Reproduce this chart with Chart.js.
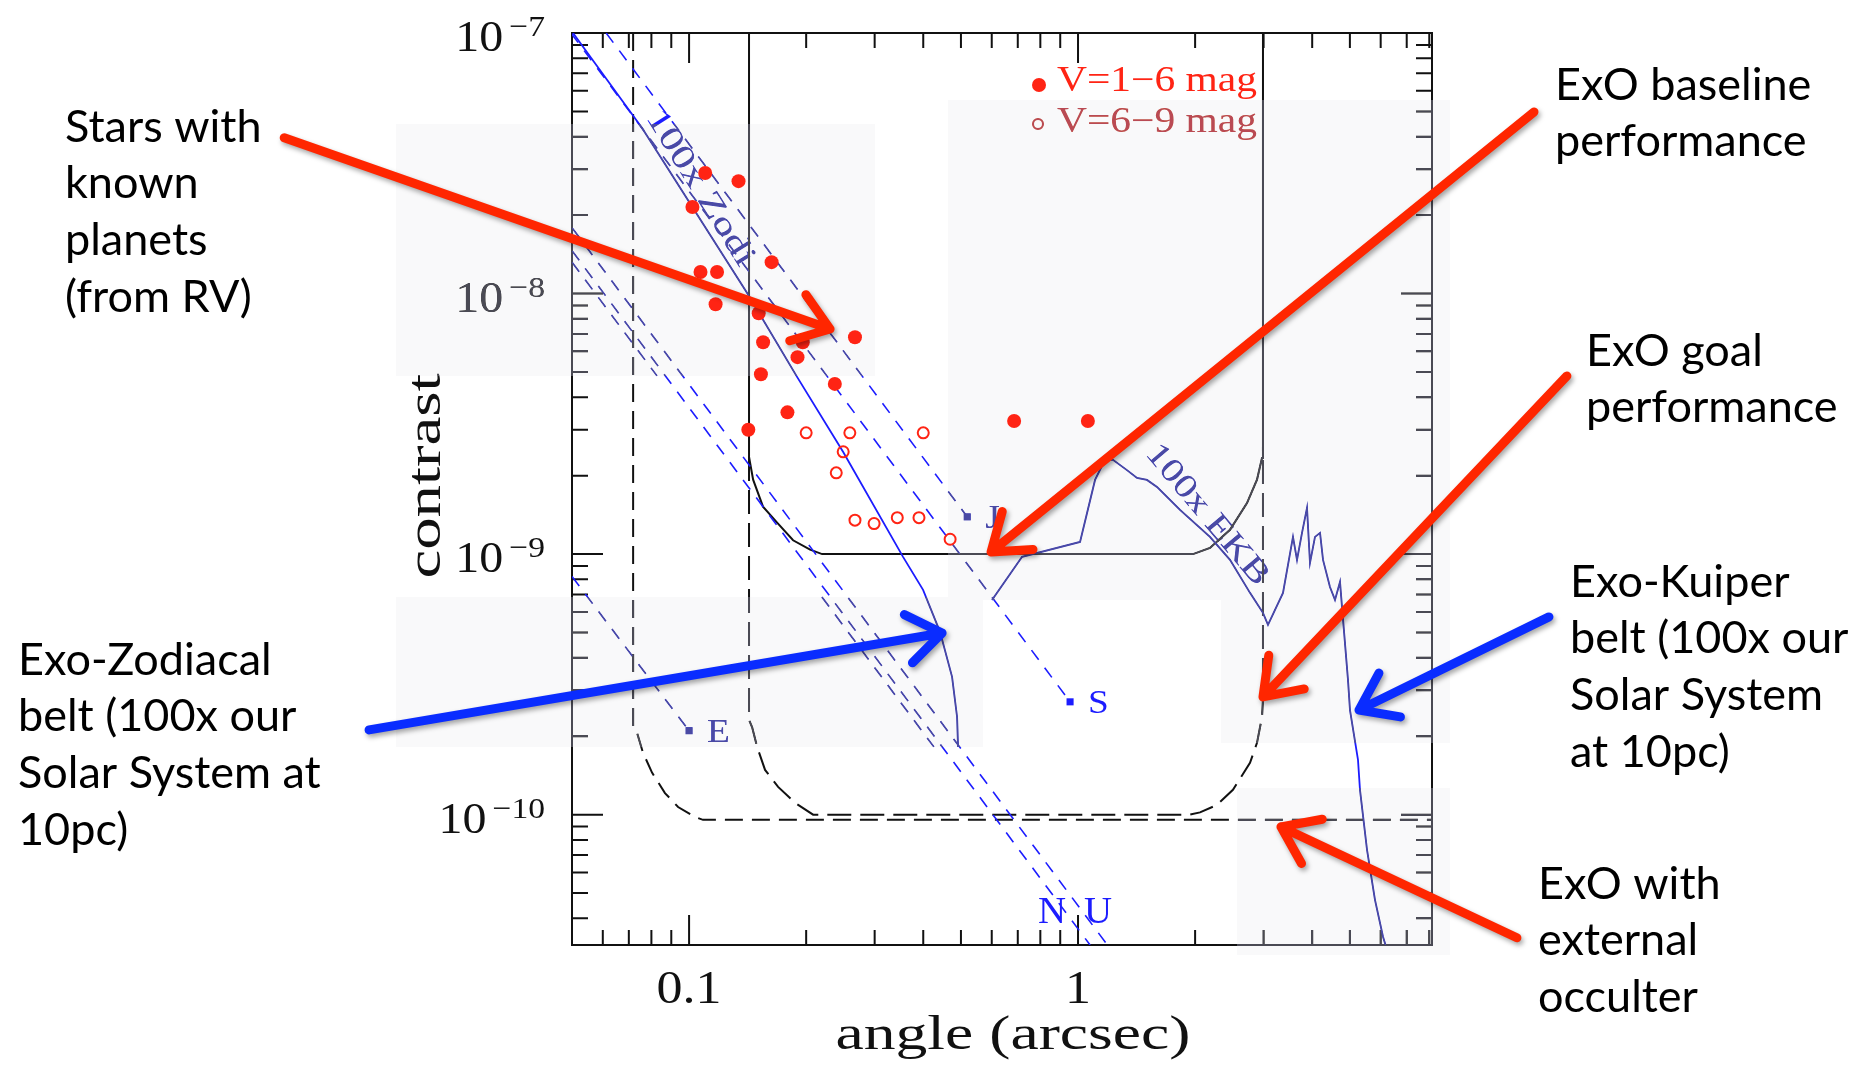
<!DOCTYPE html>
<html lang="en">
<head>
<meta charset="UTF-8">
<title>ExO contrast vs angle</title>
<script src="https://cdn.jsdelivr.net/npm/chart.js@4.4.1/dist/chart.umd.min.js"></script>
<style>
  html, body { margin: 0; padding: 0; background: #fff; }
  canvas { display: block; }
</style>
</head>
<body>
<canvas id="stage" width="1854" height="1067"></canvas>
<script>
// axis ranges: angle (arcsec) and contrast
const xRange = [0.05, 8.13];
const yRange = [3.16e-11, 1e-7];

// ticks
const xMajor = [0.1, 1];
const xTickLabels = ['0.1', '1'];
const xMinor = [0.06, 0.07, 0.08, 0.09, 0.2, 0.3, 0.4, 0.5, 0.6, 0.7, 0.8, 0.9, 2, 3, 4, 5, 6, 7, 8];
const yMajor = [1e-7, 1e-8, 1e-9, 1e-10];
const yTickExp = ['\u22127', '\u22128', '\u22129', '\u221210'];
const yMinor = [9e-8, 8e-8, 7e-8, 6e-8, 5e-8, 4e-8, 3e-8, 2e-8,
                9e-9, 8e-9, 7e-9, 6e-9, 5e-9, 4e-9, 3e-9, 2e-9,
                9e-10, 8e-10, 7e-10, 6e-10, 5e-10, 4e-10, 3e-10, 2e-10,
                9e-11, 8e-11, 7e-11, 6e-11, 5e-11, 4e-11];

// stars with known RV planets, V = 1-6 mag
const brightX = [0.110, 0.134, 0.102, 0.163, 0.107, 0.118, 0.117, 0.151, 0.267, 0.196, 0.155, 0.190, 0.153, 0.237, 0.179, 0.142, 0.685, 1.06];
const brightY = [2.90e-8, 2.70e-8, 2.15e-8, 1.32e-8, 1.21e-8, 1.21e-8, 9.1e-9, 8.4e-9, 6.8e-9, 6.5e-9, 6.5e-9, 5.7e-9, 4.9e-9, 4.5e-9, 3.5e-9, 3.0e-9, 3.24e-9, 3.24e-9];
// V = 6-9 mag
const faintX = [0.200, 0.259, 0.400, 0.249, 0.239, 0.267, 0.299, 0.343, 0.390, 0.469];
const faintY = [2.92e-9, 2.92e-9, 2.92e-9, 2.47e-9, 2.05e-9, 1.35e-9, 1.31e-9, 1.38e-9, 1.38e-9, 1.14e-9];

// solar system planets at 10pc
const planetNames = ['E', 'J', 'S'];
const planetX = [0.100, 0.519, 0.954];
const planetY = [2.10e-10, 1.39e-9, 2.71e-10];

// planet tracks
const earthX = [0.05, 0.100],     earthY = [8.2e-10, 2.10e-10];
const jupiterX = [0.0612, 0.519], jupiterY = [1.0e-7, 1.39e-9];
const saturnX = [0.0497, 0.954],  saturnY = [1.0e-7, 2.71e-10];
const uranusX = [0.05, 1.19],     uranusY = [1.79e-8, 3.16e-11];
const neptuneX = [0.05, 1.074],   neptuneY = [1.46e-8, 3.16e-11];
const extraX = [0.05, 0.0827, null, 0.2195, 0.426];
const extraY = [1.32e-8, 4.83e-9, null, 6.85e-10, 1.82e-10];
const trackNames = ['N', 'U'];
const trackLabelX = [0.857, 1.126];
const trackLabelY = [4.2e-11, 4.2e-11];

// 100x zodi
const zodiX = [0.0503, 0.0757, 0.141, 0.1895, 0.2488, 0.3549, 0.3996, 0.4417, 0.4744, 0.4887, 0.4915];
const zodiY = [1.0e-7, 4.32e-8, 1.005e-8, 4.79e-9, 2.47e-9, 9.76e-10, 7.29e-10, 5.03e-10, 3.38e-10, 2.37e-10, 1.82e-10];

// 100x EKB
const ekbX = [0.601, 0.718, 1.012, 1.106, 1.173, 1.230, 1.336, 1.418, 1.504, 1.596, 1.829, 2.184, 2.459, 2.768, 2.989, 3.079,
              3.365, 3.570, 3.656, 3.766, 3.879, 3.948, 4.067, 4.190, 4.265, 4.444, 4.578, 4.716, 4.772, 4.944, 5.003,
              5.246, 5.308, 5.534, 5.801, 6.083, 6.228];
const ekbY = [6.67e-10, 9.76e-10, 1.113e-9, 1.926e-9, 2.30e-9, 2.30e-9, 2.10e-9, 1.96e-9, 1.926e-9, 1.81e-9, 1.478e-9, 1.164e-9, 9.50e-10, 7.10e-10, 5.95e-10, 5.35e-10,
              7.10e-10, 1.164e-9, 9.50e-10, 1.206e-9, 1.504e-9, 9.25e-10, 1.164e-9, 1.206e-9, 9.50e-10, 7.48e-10, 6.67e-10, 7.82e-10, 6.27e-10, 3.29e-10, 2.52e-10,
              1.623e-10, 1.245e-10, 7.33e-11, 4.71e-11, 3.40e-11, 3.03e-11];

// ExO baseline performance
const baseX = [0.1426, 0.1426, 0.1461, 0.1549, 0.1684, 0.1851, 0.2047, 0.2198, 1.976, 2.184, 2.459, 2.719, 2.885, 2.972, 2.989, 2.989];
const baseY = [1e-7, 2.36e-9, 1.93e-9, 1.52e-9, 1.32e-9, 1.13e-9, 1.04e-9, 1.0e-9, 1.0e-9, 1.056e-9, 1.24e-9, 1.57e-9, 1.93e-9, 2.34e-9, 2.58e-9, 1e-7];

// ExO goal performance
const goalX = [0.1426, 0.1426, 0.1452, 0.1496, 0.1568, 0.1694, 0.1873, 0.2084, 1.941, 2.059, 2.277, 2.502, 2.768, 2.885, 2.972, 2.989, 2.989];
const goalY = [2.36e-9, 2.31e-10, 2.17e-10, 1.82e-10, 1.485e-10, 1.278e-10, 1.11e-10, 1.0e-10, 1.0e-10, 1.02e-10, 1.09e-10, 1.245e-10, 1.58e-10, 1.886e-10, 2.37e-10, 2.76e-10, 2.58e-9];

// ExO with external occulter
const occX = [0.0718, 0.0718, 0.0735, 0.0761, 0.0803, 0.0867, 0.0937, 0.1036, 0.1086, 8.13];
const occY = [1e-7, 2.17e-10, 2.06e-10, 1.73e-10, 1.45e-10, 1.21e-10, 1.07e-10, 9.8e-11, 9.55e-11, 9.55e-11];

const RED = '#ff2414', BLUE = '#1c1cff', INK = '#111';
const ARROW_RED = '#ff2600', ARROW_BLUE = '#0a2cff';

// pasted light patches in the source figure (canvas px)
const patches = [[396, 124, 875, 376], [948, 100, 1450, 600], [396, 597, 983, 747], [1221, 600, 1450, 743], [1237, 788, 1450, 955]];

const notes = [
  { text: ['Stars with', 'known', 'planets', '(from RV)'], left: 65, top: 127 },
  { text: ['ExO baseline', 'performance'], left: 1555, top: 85 },
  { text: ['ExO goal', 'performance'], left: 1586, top: 351 },
  { text: ['Exo-Kuiper', 'belt (100x our', 'Solar System', 'at 10pc)'], left: 1570, top: 582 },
  { text: ['Exo-Zodiacal', 'belt (100x our', 'Solar System at', '10pc)'], left: 18, top: 660 },
  { text: ['ExO with', 'external', 'occulter'], left: 1538, top: 884 }
];

const arrows = [
  { from: [0.0091, 3.96e-8], to: [0.2304, 7.31e-9], color: ARROW_RED },
  { from: [14.87, 4.98e-8], to: [0.5976, 1.019e-9], color: ARROW_RED },
  { from: [18.07, 4.83e-9], to: [2.989, 2.83e-10], color: ARROW_RED },
  { from: [0.01504, 2.115e-10], to: [0.4472, 4.98e-10], color: ARROW_BLUE },
  { from: [16.25, 5.74e-10], to: [5.277, 2.52e-10], color: ARROW_BLUE },
  { from: [13.44, 3.37e-11], to: [3.325, 8.98e-11], color: ARROW_RED }
];

function pts(xs, ys) {
  return xs.map((x, i) => ({ x: x, y: ys[i] }));
}

function lineSet(xs, ys, color, width, dash) {
  return {
    data: pts(xs, ys), showLine: true, borderColor: color, borderWidth: width,
    borderDash: dash || [], pointRadius: 0, tension: 0, fill: false
  };
}

function stretchText(c, text, x, y, width, align) {
  const w = c.measureText(text).width;
  c.save();
  c.translate(x, y);
  c.scale(width / w, 1);
  c.textAlign = align;
  c.fillText(text, 0, 0);
  c.restore();
}

function drawAxes(chart) {
  const c = chart.ctx, a = chart.chartArea, sx = chart.scales.x, sy = chart.scales.y;
  c.save();
  c.strokeStyle = INK;
  c.lineWidth = 2;
  c.beginPath();
  const seg = (x0, y0, x1, y1) => { c.moveTo(x0, y0); c.lineTo(x1, y1); };
  xMajor.forEach(v => { const p = sx.getPixelForValue(v); seg(p, a.bottom, p, a.bottom - 30); seg(p, a.top, p, a.top + 30); });
  xMinor.forEach(v => { const p = sx.getPixelForValue(v); seg(p, a.bottom, p, a.bottom - 15); seg(p, a.top, p, a.top + 15); });
  yMajor.forEach(v => { const p = sy.getPixelForValue(v); seg(a.left, p, a.left + 31, p); seg(a.right, p, a.right - 31, p); });
  yMinor.forEach(v => { const p = sy.getPixelForValue(v); seg(a.left, p, a.left + 16, p); seg(a.right, p, a.right - 16, p); });
  c.stroke();
  c.strokeRect(a.left, a.top, a.right - a.left, a.bottom - a.top);

  c.fillStyle = INK;
  c.textBaseline = 'alphabetic';
  const labRight = a.left - 27;
  yMajor.forEach((v, i) => {
    const p = sy.getPixelForValue(v);
    c.font = '30px "Liberation Serif"';
    const ew = c.measureText(yTickExp[i]).width * 1.12;
    stretchText(c, yTickExp[i], labRight, p + 3, ew, 'right');
    c.font = '45px "Liberation Serif"';
    stretchText(c, '10', labRight - ew - 6, p + 18, 48, 'right');
  });
  c.font = '46px "Liberation Serif"';
  xMajor.forEach((v, i) => {
    const p = sx.getPixelForValue(v);
    const w = c.measureText(xTickLabels[i]).width * 1.13;
    stretchText(c, xTickLabels[i], p, a.bottom + 58, w, 'center');
  });
  c.font = '48px "Liberation Serif"';
  c.textBaseline = 'middle';
  stretchText(c, 'angle (arcsec)', (a.left + a.right) / 2 + 11, a.bottom + 91, 355, 'center');
  c.save();
  c.translate(a.left - 145, (a.top + a.bottom) / 2 - 13);
  c.rotate(-Math.PI / 2);
  stretchText(c, 'contrast', 0, 0, 205, 'center');
  c.restore();
  c.restore();
}

function drawPlotText(chart) {
  const c = chart.ctx, a = chart.chartArea, sx = chart.scales.x, sy = chart.scales.y;
  c.save();
  // legend
  const lx = a.right - 375;
  c.fillStyle = RED;
  c.beginPath(); c.arc(lx - 18, a.top + 52, 7, 0, Math.PI * 2); c.fill();
  c.strokeStyle = RED; c.lineWidth = 2;
  c.beginPath(); c.arc(lx - 19, a.top + 91, 5, 0, Math.PI * 2); c.stroke();
  c.font = '35px "Liberation Serif"';
  c.textBaseline = 'middle';
  stretchText(c, 'V=1\u22126 mag', lx, a.top + 49, 200, 'left');
  stretchText(c, 'V=6\u22129 mag', lx, a.top + 90, 200, 'left');

  // planet labels
  c.fillStyle = BLUE;
  c.font = '34px "Liberation Serif"';
  planetNames.forEach((n, i) => {
    const px = sx.getPixelForValue(planetX[i]), py = sy.getPixelForValue(planetY[i]);
    stretchText(c, n, px + 18, py + 2, c.measureText(n).width * 1.1, 'left');
  });
  c.font = '37px "Liberation Serif"';
  trackNames.forEach((n, i) => {
    const px = sx.getPixelForValue(trackLabelX[i]), py = sy.getPixelForValue(trackLabelY[i]);
    stretchText(c, n, px, py, c.measureText(n).width * 1.05, 'center');
  });

  // curve labels
  c.font = '33px "Liberation Serif"';
  const rotLabel = (text, x, y, deg, width) => {
    c.save();
    c.translate(sx.getPixelForValue(x), sy.getPixelForValue(y));
    c.rotate(deg * Math.PI / 180);
    stretchText(c, text, 0, 0, width, 'center');
    c.restore();
  };
  rotLabel('100x Zodi', 0.1067, 2.54e-8, 58, 178);
  rotLabel('100x EKB', 2.146, 1.414e-9, 50, 174);
  c.restore();
}

// darken & desaturate what lies inside the pasted patches
function tintPatches(chart) {
  const c = chart.ctx;
  c.save();
  patches.forEach(p => {
    const w = p[2] - p[0], h = p[3] - p[1];
    c.globalCompositeOperation = 'saturation';
    c.globalAlpha = 0.45;
    c.fillStyle = '#808080';
    c.fillRect(p[0], p[1], w, h);
    c.globalCompositeOperation = 'lighten';
    c.globalAlpha = 1;
    c.fillStyle = 'rgb(74,74,84)';
    c.fillRect(p[0], p[1], w, h);
  });
  c.restore();
}

function drawNotes(chart) {
  const c = chart.ctx, sx = chart.scales.x, sy = chart.scales.y;
  c.save();
  c.fillStyle = '#000';
  c.font = '45px Lato';
  c.textAlign = 'left';
  c.textBaseline = 'middle';
  notes.forEach(n => n.text.forEach((t, i) => c.fillText(t, n.left, n.top + i * 56.8)));

  c.lineCap = 'round';
  c.lineJoin = 'round';
  c.lineWidth = 9;
  c.shadowColor = 'rgba(0,0,0,0.35)';
  c.shadowBlur = 5;
  c.shadowOffsetX = 2;
  c.shadowOffsetY = 3;
  arrows.forEach(ar => {
    const x0 = sx.getPixelForValue(ar.from[0]), y0 = sy.getPixelForValue(ar.from[1]);
    const x1 = sx.getPixelForValue(ar.to[0]), y1 = sy.getPixelForValue(ar.to[1]);
    const ang = Math.atan2(y1 - y0, x1 - x0), L = 42, s = 0.62;
    c.strokeStyle = ar.color;
    c.beginPath();
    c.moveTo(x0, y0);
    c.lineTo(x1, y1);
    c.moveTo(x1 - L * Math.cos(ang - s), y1 - L * Math.sin(ang - s));
    c.lineTo(x1, y1);
    c.lineTo(x1 - L * Math.cos(ang + s), y1 - L * Math.sin(ang + s));
    c.stroke();
  });
  c.restore();
}

const overlay = {
  id: 'overlay',
  beforeDraw(chart) {
    const c = chart.ctx;
    c.save();
    c.fillStyle = '#fff';
    c.fillRect(0, 0, chart.width, chart.height);
    c.fillStyle = '#f9f9fa';
    patches.forEach(p => c.fillRect(p[0], p[1], p[2] - p[0], p[3] - p[1]));
    c.restore();
  },
  beforeDatasetsDraw(chart) {
    drawAxes(chart);
    drawPlotText(chart);
  },
  afterDatasetDraw(chart, args) {
    // datasets draw from last index to first; tint once the planet squares are down,
    // before the red star symbols go on top
    if (args.index === 2) tintPatches(chart);
  },
  afterDraw(chart) {
    drawNotes(chart);
  }
};

new Chart(document.getElementById('stage'), {
  type: 'scatter',
  data: {
    datasets: [
      { data: pts(brightX, brightY), pointStyle: 'circle', pointRadius: 7, backgroundColor: RED, borderWidth: 0 },
      { data: pts(faintX, faintY), pointStyle: 'circle', pointRadius: 5.5, backgroundColor: 'rgba(0,0,0,0)', borderColor: RED, borderWidth: 2 },
      { data: pts(planetX, planetY), pointStyle: 'rect', pointRadius: 5, backgroundColor: BLUE, borderWidth: 0 },
      lineSet(zodiX, zodiY, BLUE, 1.8),
      lineSet(ekbX, ekbY, BLUE, 1.8),
      lineSet(earthX, earthY, BLUE, 1.6, [12, 10]),
      lineSet(jupiterX, jupiterY, BLUE, 1.6, [12, 10]),
      lineSet(saturnX, saturnY, BLUE, 1.6, [12, 10]),
      lineSet(uranusX, uranusY, BLUE, 1.6, [12, 10]),
      lineSet(neptuneX, neptuneY, BLUE, 1.6, [12, 10]),
      lineSet(extraX, extraY, BLUE, 1.6, [12, 10]),
      lineSet(baseX, baseY, INK, 2),
      lineSet(goalX, goalY, INK, 2, [24, 9]),
      lineSet(occX, occY, INK, 2, [18, 9])
    ]
  },
  options: {
    responsive: false,
    animation: false,
    devicePixelRatio: 1,
    events: [],
    layout: { padding: { left: 572, top: 33, right: 422, bottom: 122 } },
    plugins: { legend: { display: false }, tooltip: { enabled: false } },
    scales: {
      x: { type: 'logarithmic', min: xRange[0], max: xRange[1], display: false },
      y: { type: 'logarithmic', min: yRange[0], max: yRange[1], display: false }
    }
  },
  plugins: [overlay]
});
</script>
</body>
</html>
